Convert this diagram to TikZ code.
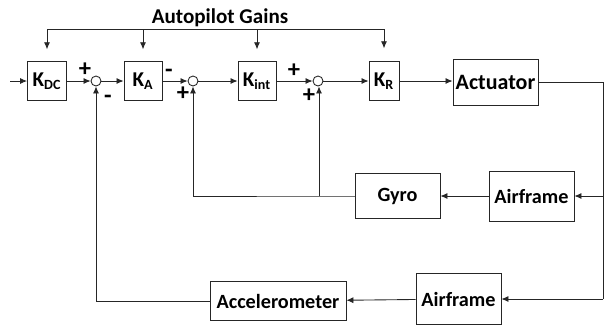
\documentclass[tikz,border=0pt]{standalone}
\usepackage{fontspec}
\setmainfont{Carlito}
\usetikzlibrary{arrows.meta}
\begin{document}
\begin{tikzpicture}[
  x=0.02cm, y=-0.02cm,
  font=\fontsize{11.5}{13}\selectfont\bfseries,
  line/.style={draw=black!85, line width=0.5pt},
  gain/.style={line, inner sep=0pt, minimum height=0.77cm, font=\fontsize{12}{14}\selectfont\bfseries},
  block/.style={line, inner sep=0pt, minimum width=1.7cm},
  sumnode/.style={line, circle, inner sep=0pt, minimum size=0.2cm},
  sign/.style={inner sep=0pt, font=\fontsize{14}{15}\selectfont\bfseries},
  arrow/.style={line, -{Latex[length=4pt,width=3.5pt]}}
]
\useasboundingbox (0,0) rectangle (605,329);
\coordinate (in) at (10,81);
\node[gain, minimum width=0.78cm] (kdc) at (47,81) {K\textsubscript{DC}};
\node[sumnode] (sum1) at (96,81) {};
\node[gain, minimum width=0.76cm] (ka) at (143,81) {K\textsubscript{A}};
\node[sumnode] (sum2) at (193,81) {};
\node[gain, minimum width=0.76cm] (kint) at (257,81) {K\textsubscript{int}};
\node[sumnode] (sum3) at (318,81) {};
\node[gain, minimum width=0.6cm] (kr) at (384,81) {K\textsubscript{R}};
\node[block, minimum height=0.92cm, font=\fontsize{12.5}{14}\selectfont\bfseries] (actuator) at (495.5,82) {Actuator};
\node[block, minimum height=1.0cm] (airframeA) at (531.5,196) {Airframe};
\node[block, minimum height=0.9cm] (gyro) at (397.5,196) {Gyro};
\node[block, minimum height=1.02cm] (airframeB) at (458.5,299) {Airframe};
\node[line, inner sep=0pt, minimum width=2.72cm, minimum height=0.78cm] (accel) at (278,301) {Accelerometer};
\node[font=\fontsize{12}{14}\selectfont\bfseries] (gains) at (220,18) {Autopilot Gains};
\coordinate (gainL) at (47,29);
\coordinate (gainR) at (384,29);
\coordinate (actR) at (603,82);
\coordinate (gyroT) at (319,196);
\coordinate (gyroS) at (193,196);
\node[sign] (p1) at (85,70) {+};
\node[sign] (m1) at (108,99) {-};
\node[sign] (m2) at (169,73) {-};
\node[sign] (p2) at (183,94) {+};
\node[sign] (p3) at (294,71) {+};
\node[sign] (p4) at (309,96) {+};
\draw[line] (gainL) -- (gainR);
\draw[arrow, shorten >=0.24cm] (gainL) -- (gainL |- kdc.north);
\draw[arrow, shorten >=0.24cm] (gainL -| ka) -- (ka.north);
\draw[arrow, shorten >=0.24cm] (gainL -| kint) -- (kint.north);
\draw[arrow, shorten >=0.26cm] (gainR) -- (kr.north);
\draw[arrow] (in) -- (kdc);
\draw[arrow] (kdc) -- (sum1);
\draw[arrow] (sum1) -- (ka);
\draw[arrow] (ka) -- (sum2);
\draw[arrow] (sum2) -- (kint);
\draw[arrow] (kint) -- (sum3);
\draw[arrow] (sum3) -- (kr);
\draw[arrow] (kr) -- (actuator.west |- kr);
\draw[line] (actuator.east) -- (actR) -- (actR |- airframeB);
\draw[arrow] (actR |- airframeA) -- (airframeA);
\draw[arrow] (actR |- airframeB) -- (airframeB);
\draw[arrow] (airframeA) -- (gyro);
\draw[arrow] (airframeB) -- (accel);
\draw[line] (gyro) -- (gyroT) -- (gyroS);
\draw[arrow] (gyroT) -- (gyroT |- sum3.south);
\draw[arrow] (gyroS) -- (sum2);
\draw[arrow] (accel) -| (sum1);
\end{tikzpicture}
\end{document}
